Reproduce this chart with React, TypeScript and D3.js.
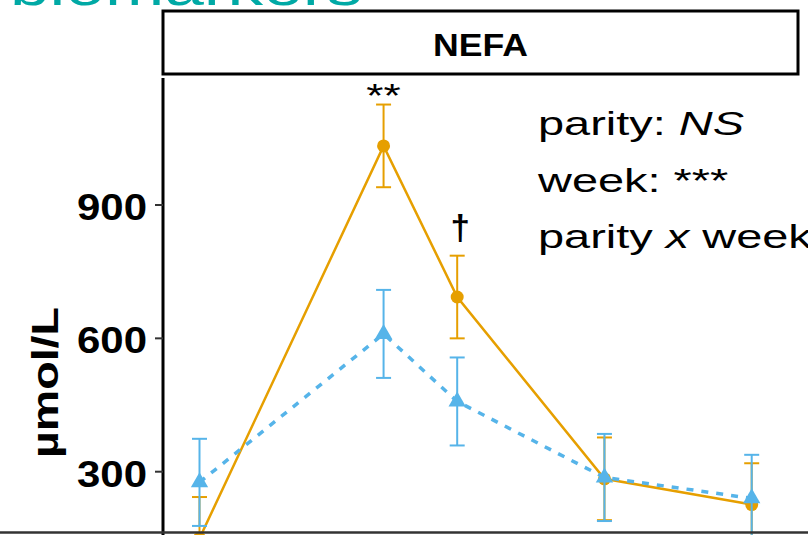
import React from "react";
import * as d3 from "d3";

// Sampling weeks relative to calving
const weeks = [-1.5, 1, 2, 4, 6];

// NEFA means and standard errors (µmol/L) per parity group
const primiMean = [150, 1033, 693, 284, 226];
const primiSE = [93, 93, 93, 93, 93];
const multiMean = [276, 610, 458, 287, 240];
const multiSE = [98, 99, 99, 98, 98];

const yTicks = [300, 600, 900];

// Significance marks above selected weeks
const sigWeeks = [1, 2];
const sigLabels = ["**", "†"];

const statLines = [
  [{ t: "parity: " }, { t: "NS", i: true }],
  [{ t: "week: ***" }],
  [{ t: "parity " }, { t: "x", i: true }, { t: " week: *" }],
];

const W = 808;
const H = 535;
const ORANGE = "#E69F00";
const BLUE = "#56B4E9";
const FONT = "'Liberation Sans', Arial, sans-serif";

export default function App() {
  const x = d3.scaleLinear().domain([-1.5, 6]).range([199.5, 751.7]);
  const y = d3.scaleLinear().domain([300, 900]).range([471.7, 205]);

  const panelLeft = 163;
  const panelRight = 798;
  const panelTop = 78;
  const panelBottom = 600;

  const line = d3
    .line<number>()
    .x((_, i) => x(weeks[i]))
    .y((d) => y(d));

  const tri = d3.symbol().type(d3.symbolTriangle).size(130)() as string;
  const cap = 7.5;

  const errorBars = (means: number[], ses: number[], color: string) =>
    means.map((m, i) => {
      const cx = x(weeks[i]);
      const y1 = y(m + ses[i]);
      const y0 = y(m - ses[i]);
      return (
        <g key={i} stroke={color} strokeWidth={2}>
          <line x1={cx} x2={cx} y1={y1} y2={y0} />
          <line x1={cx - cap} x2={cx + cap} y1={y1} y2={y1} />
          <line x1={cx - cap} x2={cx + cap} y1={y0} y2={y0} />
        </g>
      );
    });

  return (
    <svg
      width={W}
      height={H}
      style={{ position: "absolute", left: 0, top: 0, background: "#fff" }}
      fontFamily={FONT}
    >
      <defs>
        <clipPath id="panel">
          <rect
            x={panelLeft}
            y={panelTop}
            width={panelRight - panelLeft}
            height={panelBottom - panelTop}
          />
        </clipPath>
      </defs>

      {/* section heading */}
      <text
        x={10}
        y={5}
        fontSize={52}
        fill="#00A9A5"
        textLength={352}
        lengthAdjust="spacingAndGlyphs"
      >
        biomarkers
      </text>

      {/* facet strip */}
      <rect
        x={panelLeft}
        y={11}
        width={panelRight - panelLeft}
        height={63}
        fill="#fff"
        stroke="#000"
        strokeWidth={3}
      />
      <text
        x={(panelLeft + panelRight) / 2}
        y={56}
        fontSize={31}
        fontWeight="bold"
        textAnchor="middle"
        textLength={95}
        lengthAdjust="spacingAndGlyphs"
      >
        NEFA
      </text>

      {/* y axis */}
      <line
        x1={panelLeft}
        x2={panelLeft}
        y1={panelTop}
        y2={H}
        stroke="#000"
        strokeWidth={3}
      />
      {yTicks.map((t) => (
        <g key={t}>
          <line
            x1={panelLeft - 8}
            x2={panelLeft}
            y1={y(t)}
            y2={y(t)}
            stroke="#333"
            strokeWidth={2}
          />
          <text
            x={147}
            y={y(t) + 15}
            fontSize={36}
            fontWeight="bold"
            textAnchor="end"
            textLength={70}
            lengthAdjust="spacingAndGlyphs"
          >
            {t}
          </text>
        </g>
      ))}
      <text
        transform={`translate(58, 382.5) rotate(-90)`}
        fontSize={37}
        fontWeight="bold"
        textAnchor="middle"
        textLength={151}
        lengthAdjust="spacingAndGlyphs"
      >
        µmol/L
      </text>

      {/* data */}
      <g clipPath="url(#panel)">
        {errorBars(primiMean, primiSE, ORANGE)}
        <path
          d={line(primiMean) as string}
          fill="none"
          stroke={ORANGE}
          strokeWidth={2.5}
        />
        {primiMean.map((m, i) => (
          <circle key={i} cx={x(weeks[i])} cy={y(m)} r={6.5} fill={ORANGE} />
        ))}

        {errorBars(multiMean, multiSE, BLUE)}
        <path
          d={line(multiMean) as string}
          fill="none"
          stroke={BLUE}
          strokeWidth={3.5}
          strokeDasharray="7 8"
        />
        {multiMean.map((m, i) => (
          <path
            key={i}
            d={tri}
            transform={`translate(${x(weeks[i])},${y(m)})`}
            fill={BLUE}
          />
        ))}
      </g>

      {/* significance marks */}
      {sigWeeks.map((w, i) => {
        const idx = weeks.indexOf(w);
        const top = y(primiMean[idx] + primiSE[idx]);
        return i === 0 ? (
          <text
            key={i}
            transform={`translate(${x(w)}, ${top + 2}) scale(1.3,1)`}
            fontSize={34}
            textAnchor="middle"
          >
            {sigLabels[i]}
          </text>
        ) : (
          <text
            key={i}
            x={x(w) + 3}
            y={top - 16}
            fontSize={35}
            fontWeight="bold"
            textAnchor="middle"
          >
            {sigLabels[i]}
          </text>
        );
      })}

      {/* model results */}
      {statLines.map((parts, li) => (
        <text
          key={li}
          transform={`translate(538, ${135 + li * 56.5}) scale(1.38,1)`}
          fontSize={34}
        >
          {parts.map((p, k) => (
            <tspan key={k} fontStyle={p.i ? "italic" : "normal"}>
              {p.t}
            </tspan>
          ))}
        </text>
      ))}

      {/* bottom rule */}
      <line x1={0} x2={W} y1={532.5} y2={532.5} stroke="#333" strokeWidth={2.5} />
    </svg>
  );
}
